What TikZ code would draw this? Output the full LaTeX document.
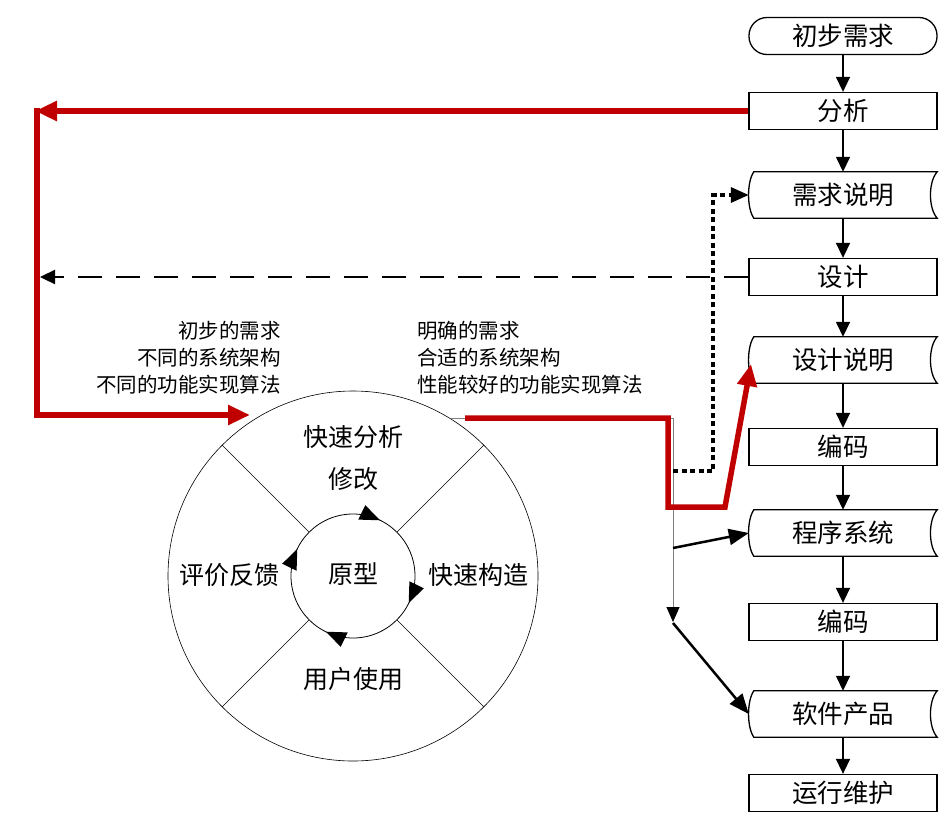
\documentclass[tikz,border=0pt]{standalone}
\usepackage{fontspec}
\setmainfont{Noto Sans CJK SC}
\usetikzlibrary{arrows.meta}
\definecolor{dred}{RGB}{192,0,0}
\newcommand\docoutline[1]{\draw[line width=1.3pt] ([xshift=5pt]#1.north west) -- (#1.north east) .. controls +(-9,10) and +(-9,-10) .. (#1.south east) -- ([xshift=5pt]#1.south west) .. controls +(-7,-10) and +(-7,10) .. ([xshift=5pt]#1.north west) -- cycle;}
\begin{document}
\begin{tikzpicture}[x=1pt,y=-1pt,
  box/.style={draw, line width=1.3pt, minimum width=188pt, minimum height=37pt, inner sep=0pt, font=\fontsize{25.5}{28}\selectfont},
  doc/.style={minimum width=188pt, minimum height=46pt, inner sep=0pt, font=\fontsize{25.5}{28}\selectfont},
  flow/.style={line width=1.5pt, -{Triangle[length=15pt,width=14pt]}},
  link/.style={line width=2.5pt, -{Triangle[length=20pt,width=16pt]}},
  redarrow/.style={draw=dred, line width=5.5pt, -{Triangle[length=22pt,width=19pt]}},
  lbl/.style={font=\fontsize{20.5}{24}\selectfont, inner sep=0pt},
  ctext/.style={font=\fontsize{25}{28}\selectfont, inner sep=0pt}
]
\useasboundingbox (0,0) rectangle (950,830);

% right column
\node[box, rounded corners=18pt] (n1) at (843,36) {初步需求};
\node[box] (n2) at (843,111) {分析};
\node[doc] (n3) at (843,195) {需求说明};
\node[box] (n4) at (843,277) {设计};
\node[doc] (n5) at (843,360) {设计说明};
\node[box] (n6) at (843,447) {编码};
\node[doc] (n7) at (843,533) {程序系统};
\node[box] (n8) at (843,622) {编码};
\node[doc] (n9) at (843,714) {软件产品};
\node[box] (n10) at (843,793) {运行维护};
\docoutline{n3}
\docoutline{n5}
\docoutline{n7}
\docoutline{n9}
\foreach \a/\b in {n1/n2,n2/n3,n3/n4,n4/n5,n5/n6,n6/n7,n7/n8,n8/n9,n9/n10}
  \draw[flow] (\a) -- (\b);

% prototype cycle
\coordinate (c) at (353,576);
\node[draw, circle, line width=0.6pt, minimum size=370pt, inner sep=0pt] (cyc) at (c) {};
\node[draw, circle, line width=0.8pt, minimum size=124pt, inner sep=0pt] (inner) at (c) {};
\foreach \ang in {64,-26,-116,154}
  \fill[shift={(c)}, rotate=\ang] (62pt,0pt) -- (69pt,20pt) -- (53pt,20pt) -- cycle;
\foreach \ang in {45,135,225,315}
  \draw[line width=0.6pt] (inner.\ang) -- (cyc.\ang);
\node[ctext] (t1) at (353,437) {快速分析};
\node[ctext] (t2) at (353,479) {修改};
\node[ctext] (t3) at (353,574) {原型};
\node[ctext] (t4) at (229,575) {评价反馈};
\node[ctext] (t5) at (478,575) {快速构造};
\node[ctext] (t6) at (353,679) {用户使用};

% labels
\node[lbl, anchor=east] (l1) at (281,331) {初步的需求};
\node[lbl, anchor=east] (l2) at (281,358) {不同的系统架构};
\node[lbl, anchor=east] (l3) at (281,385) {不同的功能实现算法};
\node[lbl, anchor=west] (r1) at (417,331) {明确的需求};
\node[lbl, anchor=west] (r2) at (417,358) {合适的系统架构};
\node[lbl, anchor=west] (r3) at (417,385) {性能较好的功能实现算法};

% coordinates
\coordinate (tl) at (35,111);
\coordinate (bl) at (37,415);
\coordinate (cin) at (250,415);
\coordinate (ro) at (465,418);
\coordinate (rtip) at (751,364);
\coordinate (jbot) at (673,622);
\coordinate (jd) at (673,471);
\coordinate (jm) at (673,548);
\coordinate (jl) at (673,623);
\coordinate (dl) at (40,277);

% gray trunk
\draw[gray, line width=0.9pt, -{Triangle[black,length=15pt,width=13pt]}] (cyc.58) -| (jbot);

% dotted
\draw[line width=3.2pt, dash pattern=on 5pt off 3.5pt, -{Triangle[length=18pt,width=15pt]}] (jd) -- (713,471) -- (713,195) -- (n3.west);

% dashed
\draw[line width=2.3pt, dash pattern=on 24pt off 14pt, -{Triangle[length=15pt,width=14pt]}] (n4.west) -- (dl);

% black links
\draw[link] (jm) -- (n7.west);
\draw[link] (jl) -- (n9.west);

% red lines
\draw[redarrow] (n2.west) -- (tl);
\draw[redarrow, line join=miter] (37,108.3) -- (bl) -- (cin);
\draw[redarrow, line join=miter] (ro) -- (668,418) -- (668,507) -- (725,507) -- (rtip);
\end{tikzpicture}
\end{document}
